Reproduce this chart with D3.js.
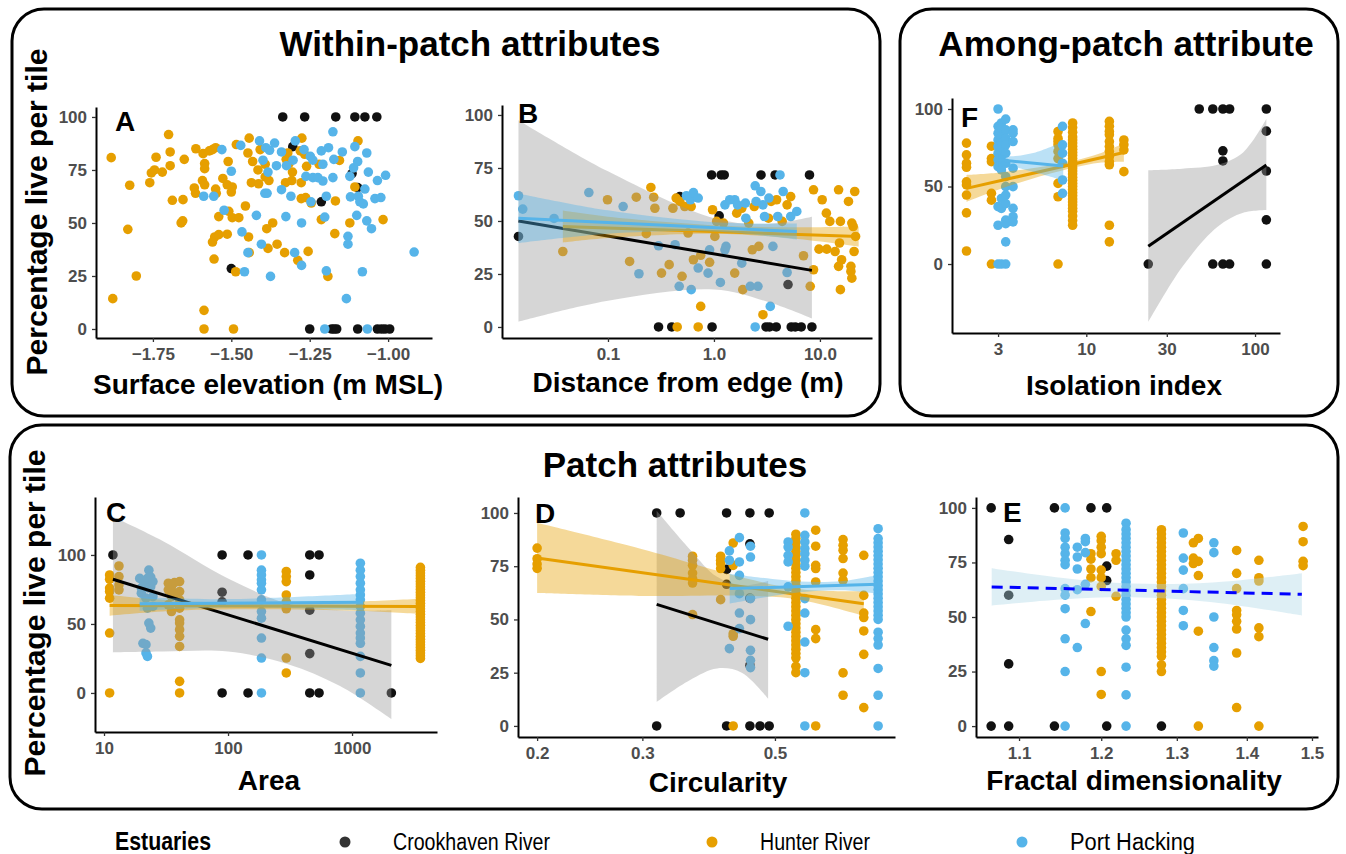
<!DOCTYPE html>
<html>
<head>
<meta charset="utf-8">
<script src="https://cdn.jsdelivr.net/npm/d3@7"></script>
<style>
body { margin: 0; background: #fff; }
text { font-family: "Liberation Sans", Arial, sans-serif; }
</style>
</head>
<body>
<svg id="chart" width="1346" height="854"></svg>
<script>
"use strict";

// ---- estuaries ----
var estuaries = ["Crookhaven River", "Hunter River", "Port Hacking"];
var estColors = ["#111111", "#E69F00", "#56B4E9"];
var ribbonFills = ["#999999", "#E69F00", "#56B4E9"];

// ---- A: surface elevation (x, % live) ----
var elevCrook = [[-1.336,100],[-1.266,100],[-1.167,100],[-1.106,100],[-1.074,100],[-1.036,100],[-1.304,86],[-1.115,73.3],[-1.097,66.7],[-1.213,60],[-1.5,28.5],[-1.25,0],[-1.18,0],[-1.172,0],[-1.164,0],[-1.097,0],[-1.034,0],[-1.021,0],[-1.01,0],[-0.995,0]];
var elevHunter = [[-1.883,80.8],[-1.878,14.3],[-1.824,67.8],[-1.83,47],[-1.803,25],[-1.76,69],[-1.755,73.6],[-1.74,81],[-1.745,75],[-1.72,74],[-1.70,91.7],[-1.695,83.5],[-1.695,77],[-1.688,60.7],[-1.654,61],[-1.65,80],[-1.66,50],[-1.655,51],[-1.618,66.5],[-1.614,64],[-1.613,85],[-1.59,82.7],[-1.585,78],[-1.592,70],[-1.585,68],[-1.585,75.6],[-1.57,84],[-1.56,84.6],[-1.55,85.5],[-1.55,66],[-1.548,64],[-1.553,43.4],[-1.56,41],[-1.555,33],[-1.587,8.8],[-1.587,0],[-1.493,0],[-1.54,53],[-1.54,44.5],[-1.527,71],[-1.51,79],[-1.513,44.7],[-1.513,68],[-1.5,64.6],[-1.497,67],[-1.497,52.5],[-1.508,55.5],[-1.476,52.5],[-1.484,87],[-1.486,27],[-1.455,58],[-1.447,83],[-1.443,90],[-1.445,43.4],[-1.443,36],[-1.432,79],[-1.436,69],[-1.413,68.5],[-1.415,75],[-1.408,84.6],[-1.392,77.7],[-1.392,71.7],[-1.387,47.3],[-1.383,38],[-1.38,70],[-1.368,50],[-1.354,40],[-1.33,36],[-1.325,80],[-1.327,69],[-1.32,83],[-1.316,78],[-1.305,74],[-1.307,70],[-1.288,32.4],[-1.28,84],[-1.277,69],[-1.275,90],[-1.277,61.5],[-1.266,82.4],[-1.26,76.7],[-1.263,62],[-1.255,36.6],[-1.245,59.4],[-1.22,77.7],[-1.213,51.6],[-1.192,24.8],[-1.17,45],[-1.168,60.4],[-1.155,79.5],[-1.122,50],[-1.106,67],[-1.096,88.7],[-1.016,51.6]];
var elevPort = [[-1.588,62.6],[-1.556,62.6],[-1.53,84.6],[-1.523,56],[-1.5,74.4],[-1.47,86.6],[-1.466,45.8],[-1.458,27],[-1.447,36],[-1.42,53.6],[-1.41,88.7],[-1.404,40],[-1.399,79.6],[-1.39,85.5],[-1.393,64],[-1.386,64],[-1.383,74],[-1.378,84.3],[-1.375,24.8],[-1.362,87.7],[-1.356,77],[-1.34,83.5],[-1.34,65.7],[-1.326,53],[-1.324,77],[-1.31,62.6],[-1.303,79.6],[-1.298,36],[-1.296,88.7],[-1.276,50],[-1.276,30],[-1.268,84.6],[-1.262,72],[-1.248,81.4],[-1.246,60],[-1.24,79.6],[-1.24,71.4],[-1.224,71.4],[-1.213,84],[-1.208,77.7],[-1.208,69.8],[-1.202,52.8],[-1.197,27.4],[-1.197,62.6],[-1.19,85.5],[-1.176,93],[-1.176,71.4],[-1.173,80],[-1.146,83.5],[-1.133,14.3],[-1.128,43.7],[-1.128,40],[-1.122,72],[-1.12,62.3],[-1.11,76],[-1.106,86],[-1.1,53.6],[-1.097,79],[-1.095,62.6],[-1.09,60],[-1.082,27],[-1.079,59],[-1.074,66],[-1.068,51],[-1.068,83],[-1.063,74],[-1.053,47.3],[-1.042,61.5],[-1.034,70],[-1.023,62],[-1.008,72.5],[-0.917,36.3],[-1.202,0],[-1.066,0]];

// ---- B: distance from edge ----
var distCrook = [[0.30,0],[0.40,0],[0.96,0],[3.1,0],[3.34,0],[3.87,0],[5.36,0],[5.85,0],[6.66,0],[8.4,0],[0.95,71.7],[1.17,71.7],[1.25,71.7],[2.78,71.7],[3.78,71.7],[7.97,71.7],[0.0143,42.7],[0.476,61.5],[1.12,52.4],[5.0,20]];
var distHunter = [[0.0375,35.6],[0.099,60],[0.16,30.9],[0.185,61.2],[0.23,44],[0.254,65.8],[0.27,61.2],[0.277,56],[0.32,25.4],[0.378,29.4],[0.41,56],[0.44,60.8],[0.45,0],[0.476,59.2],[0.5,23.9],[0.53,56.8],[0.57,44.3],[0.61,56.8],[0.64,31.7],[0.71,0],[0.75,9.7],[0.75,33.8],[0.91,30.5],[0.97,55.3],[1.02,42.7],[1.06,49.8],[1.23,49],[1.57,25.4],[1.64,53.7],[1.83,56],[1.87,17.6],[2.13,49],[2.3,36.4],[2.4,56.8],[2.65,38],[2.9,5.8],[3.27,51.3],[3.46,59.2],[3.9,60],[4.4,49.8],[4.9,57.6],[5.3,61.5],[7.0,33.6],[8.1,19.2],[8.7,27],[8.7,64.7],[10.5,60],[11.5,53.7],[12.4,49.8],[9.8,36.7],[11.6,36.7],[13.9,35.6],[15,64.7],[15.6,49.8],[15.3,39.6],[15.6,17.6],[15,28.6],[16,31.7],[18.6,59.2],[19.6,28.6],[20,49],[20.6,47.4],[19.6,26.2],[20,23],[21.3,63.9],[21.7,42.7],[21,35.6]];
var distPort = [[0.0143,61.9],[0.0157,55.6],[0.031,51.2],[0.066,63.4],[0.139,56.8],[0.196,25.1],[0.30,38.3],[0.43,38.8],[0.47,19.2],[0.55,61.9],[0.6,60],[0.61,17.6],[0.64,63.4],[0.71,60.8],[0.71,27.8],[0.88,25.4],[0.91,36.4],[1.15,21],[1.27,57.6],[1.27,36.4],[1.3,38],[1.41,60],[1.57,60],[1.67,57.6],[1.83,30.1],[1.98,58.4],[2.0,51.3],[2.2,19.2],[2.45,66.6],[2.5,59.2],[2.6,19.2],[2.77,63.9],[2.9,57.6],[3.0,52.1],[3.3,60.8],[3.4,9.7],[3.6,38],[4.0,52.1],[4.2,71.7],[4.5,63.9],[4.9,25.7],[5.3,52.1],[6.05,54.5],[2.45,0]];
// smooth rows: [x, fit, lower, upper]
var distSmoothCrook = [[0.0143,50,2.5,97.5],[0.1,42.9,12.4,73.4],[1,34.5,17.7,51.3],[3.16,30.3,12,48.6],[8.4,26.7,4,52]];
var distSmoothHunter = [[0.0375,47.4,39.9,54.9],[0.1,47,42,52],[1,46,44,48],[5,44.5,42,47],[23.2,42.7,38,47.4]];
var distSmoothPort = [[0.0143,51.3,39.6,63],[0.1,49.5,44,55],[1,47.2,45,49.4],[6.05,45,41.2,48.8]];

// ---- F: isolation index (x, [% live ...]) ----
var isoCrook = [[23.3,[0]],[46.7,[100]],[56.2,[100,0]],[64.5,[100,73,66.5,0]],[70.7,[100,0]],[116.7,[100,85.7,60,28.5,0]]];
var isoHunter = [[1.95,[78,70.4,65,62.4,53,51,44.5,33,8.4]],[2.74,[76,68,66,45.6,41.2,0]],[6.8,[85.5,81,79,76.9,72.6,68,52,43.4,0]],[8.3,[91,88,85,82,80,78,76,74,72,70,68,66,64,62,60,58,56,54,52,50,48,46,44,42,40,38,36,34,31,28,25]],[13.7,[92,88.8,85.5,83.4,79,75.8,72.6,69.3,66,64,25,14.3]],[16.7,[80,77,73.6,59.6]]];
var isoPort = [[3.0,[100,88.8,84.4,80,75.8,71.5,67.2,62.8,37,25,0]],[3.14,[91,87.7,82.3,78,73.6,69.3,65,60.7,42.3,35.9,0]],[3.33,[93.5,86.6,81.2,76.9,71.5,65,56.4,49.9,44.5,39,28.3,26,14.3,0]],[3.68,[86.6,84.4,79,61.8,49.9,35.9,30.5,27.2]],[7.23,[88.8,76.9,71.5,65,54.2,45.6]]];
var isoSmoothCrook = [[23.3,11.4,-37.5,60.5],[37,26.5,-2,61.5],[60,42.3,24,64],[85,53.6,33,72],[116.7,63.9,34.8,93.5]];
var isoSmoothHunter = [[1.95,48.8,40.1,57.5],[3,53.4,47.9,58.9],[5,58.9,55.7,62.1],[8.5,64.5,62.3,66.7],[12,68.3,65.3,71.3],[16.7,71.9,65.9,77.9]];
var isoSmoothPort = [[3,67.2,63,71],[3.4,66.8,63.5,69.5],[5,65.5,59,72],[7.3,63.3,54,79]];

// ---- C: area ----
var areaCrook = [[11.8,[100]],[89.6,[100,73,66,0]],[145,[100,0]],[456,[100,85.5,60,28.5,0]],[542,[100,0]],[2075,[0]]];
var areaHunter = [[11.1,[85.5,82.4,76,73.5,68.7,43.4,0]],[13.2,[92,84.3,78.3,74.7]],[33,[79.5,74.7,63.9]],[35,[77,69.9,59]],[37,[80,72]],[40.7,[80.7,73.5,67.5,61.4,53,50.6,45.8,41,33.7,8.4,0]],[295,[88,84.3,80.7,71,66,61,25.3,14.5]],[3560,[91,89,87,85,83,81,79,77,75,73,71,69,67,65,63,61,59,57,55,53,51,49,47,45,43,41,39,37,35,33,31,29,27,25]]];
var areaPort = [[19.4,[83]],[20,[72.3,76]],[20.6,[36,77]],[21.4,[80.7]],[21.8,[29,68.7,35]],[22.4,[83,61.4,26.5]],[23,[89,50.6,76]],[23.8,[84,47,77]],[24.8,[80.7,69.9,62.7]],[186,[100,89,85.5,82,79.5,74.7,67.5,59,54.2,39.8,25.3,0]],[1167,[94,89,84.3,79.5,74.7,71,67.5,62.7,57.8,53,48.2,43.4,39.8,36,26.5,14.5,0]]];
var areaSmoothCrook = [[11.8,82.4,29.4,127.7],[30,71.1,30,110],[100,56.6,30,83],[300,43.3,21,65],[800,31.5,5,60],[2075,20,-19,60]];
var areaSmoothHunter = [[11.1,63.4,55.9,70.9],[40,63.2,59.7,66.7],[300,63,60.5,65.5],[1200,62.8,59.3,66.3],[3560,62.7,57.2,68.2]];
var areaSmoothPort = [[19.4,64.6,59.6,69.6],[100,65,62,68],[1227,65.8,59.8,71.8]];

// ---- D: circularity ----
var circCrook = [[0.317,[100,0]],[0.347,[100]],[0.415,[100,73.5,66.5,0]],[0.454,[100,85.5,60,28.5,0]],[0.472,[0]],[0.489,[100,0]]];
var circHunter = [[0.2,[83.5,78.5,76,74]],[0.364,[79.7,77.8,75.4,71.8,69.2,67.1,52.3]],[0.4056,[79.7,77.8,76.2,73.9,59.3]],[0.4257,[85.9,75.4,43.3,42.1,0]],[0.542,[90,88,86,84,82,80,78,76,74,72,70,68,66,64,62,60,58,56,54,52,50,48,46,44,42,40,38,36,34,32,28,25]],[0.585,[91.9,84.4,75.4,73.9,67.6,45.2,41,0]],[0.65,[87.5,84.8,82.5,78.6,71.8,68.4,24.9,14.4]],[0.704,[80.1,61.3,53,50.9,44.6,33.6,8.6]]];
var circPort = [[0.4195,[82.2,77.8,36.3]],[0.436,[88.4,77,70.7,62.1,53,45.7]],[0.455,[84.4,79.3,59.8,49.9,35.5,30.8,27.4]],[0.526,[86.4,84,80.1,77,65.3,46.8]],[0.561,[100,89.5,86.4,83.3,80.9,77.8,75,59.8,53,39.4,25,0]],[0.744,[92.6,88,86,84,82,80,78,76,74,72,70,68,66,64,62,60,58,56,54,52,50,44,41,38,27,14.4,0]]];
var circSmoothCrook = [[0.317,57.1,11.3,101],[0.36,52.2,21.5,83],[0.4,48.2,27,70],[0.44,44.6,25,66],[0.487,40.7,12.8,68]];
var circSmoothHunter = [[0.2,78.9,62.4,95.4],[0.3,72,61,83],[0.45,65.1,61.1,69.1],[0.55,61.7,59.2,64.2],[0.704,57.4,51.6,63.2]];
var circSmoothPort = [[0.42,64.5,57.5,71.5],[0.55,65.3,62.8,67.8],[0.65,65.9,63.7,68.1],[0.743,66.5,62.1,70.9]];

// ---- E: fractal dimensionality ----
var fracCrook = [[1.068,[100,0]],[1.088,[85.5,60,28.5,0]],[1.142,[100,0]],[1.187,[100]],[1.207,[100,73.3,66.7,0]],[1.279,[0]]];
var fracHunter = [[1.187,[79,76.5,72,68,52.5]],[1.2,[87,85,82,79,71.5,68,64,25,14.5]],[1.219,[79,76,59.5]],[1.279,[90,88,86,84,82,80,78,76,74,72,70,68,66,64,62,60,58,56,54,52,50,48,46,44,42,40,38,36,34,32,28,25]],[1.323,[84,77,74.5]],[1.33,[86,75.5,69,43.5,0]],[1.385,[80.5,70,63,53,51,48,44.5,33.5,8.5]],[1.418,[76,68,66.5,45,41,0]],[1.486,[91.5,84.5,75.5,73.5]]];
var fracPort = [[1.155,[100,88.5,86,82,79,76,74,63,60,53.8,40,25,0]],[1.170,[82,77.5,72,62.5,36]],[1.180,[86,84.5,79.5,65,47]],[1.232,[93,90,88,86,84,82,80,78,76,74,72,70,68,66,64,62,60,58,56,54,52,50,44,40,37,27,14.3,0]],[1.309,[88.5,77,71.5,63,53,46]],[1.352,[84,79.5,50,36,30,27.5]]];
var fracSmoothAll = [[1.0686,63.8,55.2,72.4],[1.15,63,58,68],[1.24,62.2,59.1,65.3],[1.35,61.3,56.8,65.8],[1.484,60.4,50.7,70.1]];

// ---- ticks ----
var yTicks100 = [0, 25, 50, 75, 100];
var yTicks50 = [0, 50, 100];
var elevTicks = [-1.75, -1.5, -1.25, -1.0];
var distTicks = [0.1, 1, 10];
var isoTicks = [3, 10, 30, 100];
var areaTicks = [10, 100, 1000];
var circTicks = [0.2, 0.3, 0.5];
var fracTicks = [1.1, 1.2, 1.3, 1.4, 1.5];

var svg = d3.select("#chart");

function expand(rows) {
    var out = [];
    rows.forEach(function (r) {
        if (Array.isArray(r[1])) {
            r[1].forEach(function (v) { out.push([r[0], v]); });
        } else {
            out.push(r);
        }
    });
    return out;
}

// rounded frames
var frames = [[12, 9, 868, 407], [900, 9, 438, 407], [10, 425, 1328, 384]];
svg.selectAll("rect.frame").data(frames).join("rect")
    .attr("class", "frame")
    .attr("x", function (d) { return d[0]; }).attr("y", function (d) { return d[1]; })
    .attr("width", function (d) { return d[2]; }).attr("height", function (d) { return d[3]; })
    .attr("rx", 32).attr("ry", 32)
    .attr("fill", "none").attr("stroke", "#000").attr("stroke-width", 3);

var drawPanel = function drawPanel(p) {
    var x = (p.log ? d3.scaleLog() : d3.scaleLinear()).domain(p.xDomain).range([p.left, p.right]);
    var y = d3.scaleLinear().domain(p.yDomain).range([p.bottom, p.top]);
    var g = svg.append("g");
    var clipId = "clip" + p.letter;

    svg.append("clipPath").attr("id", clipId).append("rect")
        .attr("x", p.left).attr("y", p.top)
        .attr("width", p.right - p.left).attr("height", p.bottom - p.top);

    var body = g.append("g").attr("clip-path", "url(#" + clipId + ")");

    p.points.forEach(function (s) {
        body.append("g").selectAll("circle").data(expand(s[0])).join("circle")
            .attr("cx", function (d) { return x(d[0]); })
            .attr("cy", function (d) { return y(d[1]); })
            .attr("r", 4.8)
            .attr("fill", estColors[s[1]]);
    });

    var area = d3.area().curve(d3.curveCatmullRom.alpha(0.5))
        .x(function (d) { return x(d[0]); })
        .y0(function (d) { return y(d[2]); })
        .y1(function (d) { return y(d[3]); });
    var line = d3.line()
        .x(function (d) { return x(d[0]); })
        .y(function (d) { return y(d[1]); });

    p.smooths.forEach(function (s) {
        body.append("path").datum(s.data).attr("d", area)
            .attr("fill", s.fill).attr("fill-opacity", 0.4);
        body.append("path").datum([s.data[0], s.data[s.data.length - 1]]).attr("d", line)
            .attr("fill", "none").attr("stroke", s.color).attr("stroke-width", 3)
            .attr("stroke-dasharray", s.dash || null);
    });

    var xAxis = d3.axisBottom(x).tickValues(p.xTicks).tickFormat(p.xFmt)
        .tickSize(4).tickSizeOuter(0).tickPadding(6);
    var yAxis = d3.axisLeft(y).tickValues(p.yTicks).tickFormat(d3.format("d"))
        .tickSize(4).tickSizeOuter(0).tickPadding(5);

    var gx = g.append("g").attr("transform", "translate(0," + p.bottom + ")").call(xAxis);
    var gy = g.append("g").attr("transform", "translate(" + p.left + ",0)").call(yAxis);
    [gx, gy].forEach(function (ax) {
        ax.select(".domain").attr("stroke", "#000").attr("stroke-width", 2);
        ax.selectAll(".tick line").attr("stroke", "#333").attr("stroke-width", 1.3);
        ax.selectAll(".tick text").attr("fill", "#4d4d4d")
            .style("font-family", "'Liberation Sans', Arial, sans-serif")
            .style("font-size", "17px").style("font-weight", "bold");
    });

    g.append("text").attr("x", p.letterPos[0]).attr("y", p.letterPos[1])
        .attr("font-size", 28).attr("font-weight", "bold").text(p.letter);
    g.append("text").attr("x", p.titlePos[0]).attr("y", p.titlePos[1])
        .attr("text-anchor", "middle").attr("font-size", 28).attr("font-weight", "bold")
        .text(p.title);
};

var minusFmt = function (d) { return (d < 0 ? "\u2212" : "") + Math.abs(d).toFixed(2); };

var panels = [
    { letter: "A", left: 96, right: 432, top: 107, bottom: 338, log: false,
      xDomain: [-1.9315, -0.86], yDomain: [-4.25, 104.7], xTicks: elevTicks, xFmt: minusFmt, yTicks: yTicks100,
      letterPos: [115, 131], title: "Surface elevation (m MSL)", titlePos: [268, 394],
      points: [[elevCrook, 0], [elevHunter, 1], [elevPort, 2]], smooths: [] },
    { letter: "B", left: 502, right: 872, top: 105, bottom: 338, log: true,
      xDomain: [0.01, 31], yDomain: [-5.2, 104.7], xTicks: distTicks, xFmt: d3.format(".1f"), yTicks: yTicks100,
      letterPos: [518, 123], title: "Distance from edge (m)", titlePos: [688, 392],
      points: [[distCrook, 0], [distHunter, 1], [distPort, 2]],
      smooths: [{ data: distSmoothCrook, fill: ribbonFills[0], color: "#000" },
                { data: distSmoothHunter, fill: ribbonFills[1], color: estColors[1] },
                { data: distSmoothPort, fill: ribbonFills[2], color: estColors[2] }] },
    { letter: "F", left: 952, right: 1280, top: 98, bottom: 333, log: true,
      xDomain: [1.60, 140.6], yDomain: [-44.5, 107.1], xTicks: isoTicks, xFmt: d3.format("d"), yTicks: yTicks50,
      letterPos: [961, 127], title: "Isolation index", titlePos: [1124, 395],
      points: [[isoCrook, 0], [isoHunter, 1], [isoPort, 2]],
      smooths: [{ data: isoSmoothCrook, fill: ribbonFills[0], color: "#000" },
                { data: isoSmoothHunter, fill: ribbonFills[1], color: estColors[1] },
                { data: isoSmoothPort, fill: ribbonFills[2], color: estColors[2] }] },
    { letter: "C", left: 95, right: 437, top: 497, bottom: 732, log: true,
      xDomain: [8.46, 4843], yDomain: [-28.3, 142], xTicks: areaTicks, xFmt: d3.format("d"), yTicks: yTicks50,
      letterPos: [106, 522], title: "Area", titlePos: [269, 790],
      points: [[areaCrook, 0], [areaHunter, 1], [areaPort, 2]],
      smooths: [{ data: areaSmoothCrook, fill: ribbonFills[0], color: "#000" },
                { data: areaSmoothHunter, fill: ribbonFills[1], color: estColors[1] },
                { data: areaSmoothPort, fill: ribbonFills[2], color: estColors[2] }] },
    { letter: "D", left: 518, right: 895, top: 497, bottom: 737, log: true,
      xDomain: [0.1858, 0.794], yDomain: [-5.2, 107.5], xTicks: circTicks, xFmt: d3.format(".1f"), yTicks: yTicks100,
      letterPos: [535, 523], title: "Circularity", titlePos: [718, 792],
      points: [[circCrook, 0], [circHunter, 1], [circPort, 2]],
      smooths: [{ data: circSmoothCrook, fill: ribbonFills[0], color: "#000" },
                { data: circSmoothHunter, fill: ribbonFills[1], color: estColors[1] },
                { data: circSmoothPort, fill: ribbonFills[2], color: estColors[2] }] },
    { letter: "E", left: 976, right: 1318, top: 497, bottom: 737, log: true,
      xDomain: [1.051, 1.5096], yDomain: [-5, 105], xTicks: fracTicks, xFmt: d3.format(".1f"), yTicks: yTicks100,
      letterPos: [1003, 522], title: "Fractal dimensionality", titlePos: [1134, 790],
      points: [[fracCrook, 0], [fracHunter, 1], [fracPort, 2]],
      smooths: [{ data: fracSmoothAll, fill: "#ADD8E6", color: "#0000FF", dash: "11,7" }] }
];

panels.forEach(drawPanel);

// headings
var headings = [["Within-patch attributes", 470, 56], ["Among-patch attribute", 1126, 56], ["Patch attributes", 675, 477]];
svg.selectAll("text.heading").data(headings).join("text")
    .attr("class", "heading")
    .attr("x", function (d) { return d[1]; }).attr("y", function (d) { return d[2]; })
    .attr("text-anchor", "middle").attr("font-size", 35).attr("font-weight", "bold")
    .text(function (d) { return d[0]; });

// y titles
[[47, 212], [45, 613]].forEach(function (pos) {
    svg.append("text")
        .attr("transform", "translate(" + pos[0] + "," + pos[1] + ") rotate(-90)")
        .attr("text-anchor", "middle").attr("font-size", 30).attr("font-weight", "bold")
        .text("Percentage live per tile");
});

// legend
var legend = svg.append("g");
legend.append("text").attr("x", 115).attr("y", 850)
    .attr("font-size", 25).attr("font-weight", "bold")
    .attr("textLength", 96).attr("lengthAdjust", "spacingAndGlyphs")
    .text("Estuaries");
var legendX = [345, 712, 1022];
var legendLen = [157, 110, 125];
estuaries.forEach(function (name, i) {
    legend.append("circle").attr("cx", legendX[i]).attr("cy", 842).attr("r", 5.5)
        .attr("fill", i === 0 ? "#333" : estColors[i]);
    legend.append("text").attr("x", legendX[i] + 48).attr("y", 850)
        .attr("font-size", 23)
        .attr("textLength", legendLen[i]).attr("lengthAdjust", "spacingAndGlyphs")
        .text(name);
});
</script>
</body>
</html>
